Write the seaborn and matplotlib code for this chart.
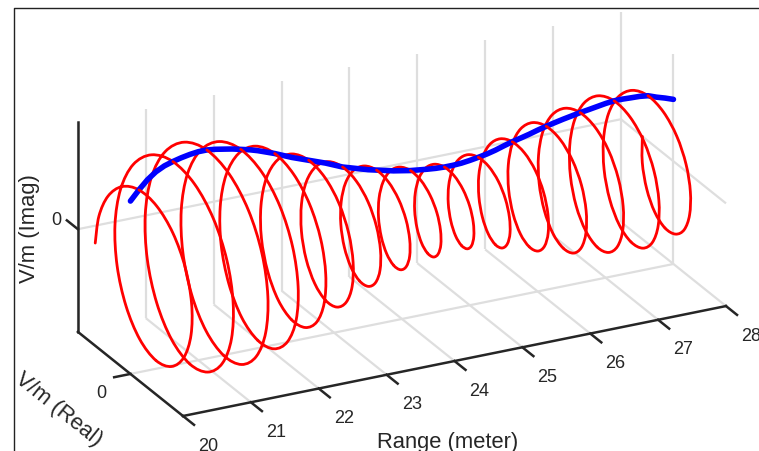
import numpy as np
import matplotlib
matplotlib.use('Agg')
import matplotlib.pyplot as plt
from matplotlib.lines import Line2D
from matplotlib.patches import PathPatch
from matplotlib.path import Path
from mpl_toolkits.mplot3d import proj3d
import seaborn as sns

# data
range_m = [
    20.000, 20.031, 20.062, 20.094, 20.125, 20.156, 20.188, 20.219,
    20.250, 20.281, 20.312, 20.344, 20.375, 20.406, 20.438, 20.469,
    20.500, 20.531, 20.562, 20.594, 20.625, 20.656, 20.688, 20.719,
    20.750, 20.781, 20.812, 20.844, 20.875, 20.906, 20.938, 20.969,
    21.000, 21.031, 21.062, 21.094, 21.125, 21.156, 21.188, 21.219,
    21.250, 21.281, 21.312, 21.344, 21.375, 21.406, 21.438, 21.469,
    21.500, 21.531, 21.562, 21.594, 21.625, 21.656, 21.688, 21.719,
    21.750, 21.781, 21.812, 21.844, 21.875, 21.906, 21.938, 21.969,
    22.000, 22.031, 22.062, 22.094, 22.125, 22.156, 22.188, 22.219,
    22.250, 22.281, 22.312, 22.344, 22.375, 22.406, 22.438, 22.469,
    22.500, 22.531, 22.562, 22.594, 22.625, 22.656, 22.688, 22.719,
    22.750, 22.781, 22.812, 22.844, 22.875, 22.906, 22.938, 22.969,
    23.000, 23.031, 23.062, 23.094, 23.125, 23.156, 23.188, 23.219,
    23.250, 23.281, 23.312, 23.344, 23.375, 23.406, 23.438, 23.469,
    23.500, 23.531, 23.562, 23.594, 23.625, 23.656, 23.688, 23.719,
    23.750, 23.781, 23.812, 23.844, 23.875, 23.906, 23.938, 23.969,
    24.000, 24.031, 24.062, 24.094, 24.125, 24.156, 24.188, 24.219,
    24.250, 24.281, 24.312, 24.344, 24.375, 24.406, 24.438, 24.469,
    24.500, 24.531, 24.562, 24.594, 24.625, 24.656, 24.688, 24.719,
    24.750, 24.781, 24.812, 24.844, 24.875, 24.906, 24.938, 24.969,
    25.000, 25.031, 25.062, 25.094, 25.125, 25.156, 25.188, 25.219,
    25.250, 25.281, 25.312, 25.344, 25.375, 25.406, 25.438, 25.469,
    25.500, 25.531, 25.562, 25.594, 25.625, 25.656, 25.688, 25.719,
    25.750, 25.781, 25.812, 25.844, 25.875, 25.906, 25.938, 25.969,
    26.000, 26.031, 26.062, 26.094, 26.125, 26.156, 26.188, 26.219,
    26.250, 26.281, 26.312, 26.344, 26.375, 26.406, 26.438, 26.469,
    26.500, 26.531, 26.562, 26.594, 26.625, 26.656, 26.688, 26.719,
    26.750, 26.781, 26.812, 26.844, 26.875, 26.906, 26.938, 26.969,
    27.000, 27.031, 27.062, 27.094, 27.125, 27.156, 27.188, 27.219,
    27.250, 27.281, 27.312, 27.344, 27.375, 27.406, 27.438, 27.469,
    27.500, 27.531, 27.562, 27.594, 27.625, 27.656, 27.688, 27.719,
    27.750, 27.781, 27.812, 27.844, 27.875, 27.906, 27.938, 27.969,
    28.000]

field_real = [
    .670, .640, .506, .283, 0, -.299, -.566, -.758,
    -.840, -.790, -.615, -.339, 0, .349, .650, .859,
    .940, .874, .674, .367, 0, -.372, -.689, -.906,
    -.985, -.914, -.702, -.381, 0, .384, .711, .931,
    1.010, .933, .714, .387, 0, -.386, -.711, -.927,
    -1.000, -.920, -.702, -.379, 0, .376, .691, .900,
    .970, .892, .679, .366, 0, -.362, -.665, -.864,
    -.930, -.854, -.649, -.349, 0, .344, .629, .816,
    .875, .802, .608, .327, 0, -.320, -.585, -.757,
    -.810, -.740, -.561, -.300, 0, .294, .537, .696,
    .745, .682, .516, .277, 0, -.271, -.495, -.640,
    -.685, -.626, -.474, -.254, 0, .247, .451, .581,
    .620, .565, .426, .228, 0, -.222, -.405, -.523,
    -.560, -.512, -.387, -.207, 0, .203, .370, .477,
    .510, .467, .354, .190, 0, -.186, -.339, -.439,
    -.470, -.430, -.325, -.174, 0, .171, .313, .406,
    .435, .398, .303, .162, 0, -.160, -.293, -.382,
    -.410, -.377, -.286, -.154, 0, .152, .280, .364,
    .392, .361, .276, .149, 0, -.149, -.274, -.359,
    -.388, -.359, -.276, -.150, 0, .151, .281, .370,
    .402, .374, .289, .158, 0, -.160, -.299, -.394,
    -.430, -.402, -.311, -.170, 0, .175, .327, .433,
    .475, .444, .344, .188, 0, -.193, -.359, -.473,
    -.517, -.482, -.373, -.204, 0, .208, .388, .512,
    .560, .522, .403, .220, 0, -.224, -.416, -.549,
    -.598, -.556, -.429, -.234, 0, .237, .440, .578,
    .630, .586, .451, .246, 0, -.248, -.460, -.604,
    -.657, -.610, -.469, -.255, 0, .258, .479, .628,
    .683, .633, .486, .264, 0, -.265, -.489, -.639,
    -.692, -.638, -.488, -.264, 0, .263, .486, .634,
    .685, .631, .481, .260, 0, -.256, -.467, -.603,
    -.645, -.590, -.448, -.240, 0, .235, .428, .553,
    .591]

field_imag = [
    0, .265, .506, .682, .760, .721, .566, .314,
    0, -.327, -.615, -.818, -.900, -.841, -.650, -.356,
    0, .362, .674, .886, .965, .896, .689, .375,
    0, -.379, -.702, -.920, -1.000, -.927, -.711, -.386,
    0, .387, .714, .933, 1.010, .931, .711, .384,
    0, -.381, -.702, -.914, -.985, -.906, -.691, -.373,
    0, .370, .679, .882, .950, .873, .665, .358,
    0, -.354, -.649, -.842, -.905, -.830, -.629, -.338,
    0, .332, .608, .788, .845, .772, .585, .314,
    0, -.307, -.561, -.724, -.775, -.710, -.537, -.288,
    0, .283, .516, .668, .715, .654, .495, .265,
    0, -.260, -.474, -.613, -.655, -.597, -.451, -.241,
    0, .234, .426, .549, .585, .535, .405, .217,
    0, -.212, -.387, -.500, -.535, -.489, -.370, -.198,
    0, .193, .354, .457, .490, .448, .339, .182,
    0, -.178, -.325, -.420, -.450, -.412, -.313, -.168,
    0, .165, .303, .392, .420, .386, .293, .158,
    0, -.156, -.286, -.372, -.400, -.368, -.280, -.151,
    0, .150, .276, .359, .388, .359, .274, .149,
    0, -.149, -.276, -.361, -.392, -.365, -.281, -.153,
    0, .155, .289, .381, .415, .387, .299, .163,
    0, -.167, -.311, -.411, -.450, -.421, -.327, -.180,
    0, .184, .344, .455, .498, .465, .359, .196,
    0, -.200, -.373, -.492, -.537, -.502, -.388, -.212,
    0, .216, .403, .531, .580, .541, .416, .228,
    0, -.231, -.429, -.565, -.615, -.572, -.440, -.240,
    0, .243, .451, .592, .645, .599, .460, .250,
    0, -.253, -.469, -.616, -.670, -.622, -.479, -.260,
    0, .262, .486, .638, .692, .639, .489, .265,
    0, -.265, -.488, -.637, -.688, -.635, -.486, -.263,
    0, .262, .481, .626, .675, .617, .467, .250,
    0, -.245, -.448, -.578, -.620, -.566, -.428, -.229,
    0]

envelope_range = [
    20.000, 20.125, 20.250, 20.375, 20.500, 20.625, 20.750, 20.875,
    21.000, 21.125, 21.250, 21.375, 21.500, 21.625, 21.750, 21.875,
    22.000, 22.125, 22.250, 22.375, 22.500, 22.625, 22.750, 22.875,
    23.000, 23.125, 23.250, 23.375, 23.500, 23.625, 23.750, 23.875,
    24.000, 24.125, 24.250, 24.375, 24.500, 24.625, 24.750, 24.875,
    25.000, 25.125, 25.250, 25.375, 25.500, 25.625, 25.750, 25.875,
    26.000, 26.125, 26.250, 26.375, 26.500, 26.625, 26.750, 26.875,
    27.000, 27.125, 27.250, 27.375, 27.500, 27.625, 27.750, 27.875,
    28.000]
envelope = [
    .670, .760, .840, .900, .940, .965, .985, 1.000,
    1.010, 1.010, 1.000, .985, .970, .950, .930, .905,
    .875, .845, .810, .775, .745, .715, .685, .655,
    .620, .585, .560, .535, .510, .490, .470, .450,
    .435, .420, .410, .400, .392, .388, .388, .392,
    .402, .415, .430, .450, .475, .498, .517, .537,
    .560, .580, .598, .615, .630, .645, .657, .670,
    .683, .692, .692, .688, .685, .675, .645, .620,
    .591]

range_ticks = [20, 21, 22, 23, 24, 25, 26, 27, 28]
real_ticks = [0]
imag_ticks = [0]
xmin, xmax = 20, 28
ymin, ymax = -1, 1
zmin, zmax = -0.98, 1.02

sns.set_theme(style='white')
plt.rcParams['font.family'] = ['Liberation Sans', 'DejaVu Sans']

W, H = 759, 452
fig = plt.figure(figsize=(W / 100, H / 100), dpi=100, facecolor='white')
ax = fig.add_axes([-0.1, -0.5, 1.2, 2.0], projection='3d', proj_type='ortho',
                  computed_zorder=False)
ax.view_init(elev=23.74, azim=-116.7, roll=0)
ax.set_xlim(xmin, xmax, view_margin=0)
ax.set_ylim(ymin, ymax, view_margin=0)
ax.set_zlim(zmin, zmax, view_margin=0)
ax.set_box_aspect((608, 234, 229))
ax.set_axis_off()


def to_px(x, y, z):
    ax.apply_aspect()
    xs, ys, _ = proj3d.proj_transform(x, y, z, ax.get_proj())
    return ax.transData.transform((xs, ys))


# fit the box to the picture: x axis should span 543 px, corner at (183, 417)
span = to_px(xmax, ymin, zmin)[0] - to_px(xmin, ymin, zmin)[0]
ax.set_box_aspect((608, 234, 229), zoom=543 / span)
corner = to_px(xmin, ymin, zmin)
pos = ax.get_position(original=True)
ax.set_position([pos.x0 + (183 - corner[0]) / W,
                 pos.y0 + ((H - 417) - corner[1]) / H,
                 pos.width, pos.height])

grid_c = '#dedede'
axis_c = '#262626'
text_c = '#262626'
grid = dict(color=grid_c, lw=1.6, zorder=1, solid_capstyle='butt')
edge = dict(color=axis_c, lw=1.8, zorder=6, solid_capstyle='projecting')

# grid on floor, back wall and right wall
for r in range_ticks:
    ax.plot([r, r], [ymin, ymax], [zmin, zmin], **grid)
    ax.plot([r, r], [ymax, ymax], [zmin, zmax], **grid)
for v in real_ticks:
    ax.plot([xmin, xmax], [v, v], [zmin, zmin], **grid)
    ax.plot([xmax, xmax], [v, v], [zmin, zmax], **grid)
for v in imag_ticks:
    ax.plot([xmin, xmax], [ymax, ymax], [v, v], **grid)
    ax.plot([xmax, xmax], [ymin, ymax], [v, v], **grid)

# axis lines and ticks
ax.plot([xmin, xmax], [ymin, ymin], [zmin, zmin], **edge)
ax.plot([xmin, xmin], [ymin, ymax], [zmin, zmin], **edge)
ax.plot([xmin, xmin], [ymax, ymax], [zmin, zmax], **edge)
for r in range_ticks:
    ax.plot([r, r], [ymin, ymin - 0.21], [zmin, zmin], **edge)
for v in real_ticks:
    ax.plot([xmin, xmin - 0.24], [v, v], [zmin, zmin], **edge)
for v in imag_ticks:
    ax.plot([xmin, xmin], [ymax, ymax + 0.21], [v, v], **edge)


class FlatCurve(PathPatch):
    # already projected, Axes3D only needs the method to exist
    def do_3d_projection(self):
        return np.inf


re_arr = np.array(field_real)
xs, ys, _ = proj3d.proj_transform(np.array(range_m), re_arr,
                                  np.array(field_imag), ax.get_proj())
pts = np.column_stack([xs, ys])


def helix_path(keep):
    # bezier through the read points, only the drawing is rounded
    verts, codes = [], []
    last = len(pts) - 1
    for i in range(last):
        if not keep[i]:
            continue
        p0, p1 = pts[max(i - 1, 0)], pts[i]
        p2, p3 = pts[i + 1], pts[min(i + 2, last)]
        if i == 0 or not keep[i - 1]:
            verts.append(p1)
            codes.append(Path.MOVETO)
        verts += [p1 + (p2 - p0) / 6, p2 - (p3 - p1) / 6, p2]
        codes += [Path.CURVE4] * 3
    return Path(np.array(verts), codes)


# helix: back half under the envelope, front half over it
back = re_arr[:-1] + re_arr[1:] > 0
red = dict(facecolor='none', edgecolor='#ff0000', lw=2.0, capstyle='round',
           joinstyle='round')
ax.add_patch(FlatCurve(helix_path(back), zorder=3, **red))
ax.plot(envelope_range, np.zeros(len(envelope)), envelope,
        color='#0000ff', lw=4.0, zorder=4, solid_capstyle='round')
ax.add_patch(FlatCurve(helix_path(~back), zorder=5, **red))

# labels
tick_kw = dict(color=text_c, fontsize=13, ha='center', va='center')
for r in range_ticks:
    ax.text(r, ymin - 0.476, zmin - 0.086, str(r), **tick_kw)
for v in real_ticks:
    ax.text(xmin - 0.427, v, zmin - 0.124, str(v), **tick_kw)
for v in imag_ticks:
    ax.text(xmin, ymax + 0.419, v - 0.072, str(v), **tick_kw)
label_kw = dict(color=text_c, fontsize=15.8, ha='center', va='center',
                rotation_mode='anchor')
ax.text(23.903, ymin, zmin - 0.76, 'Range (meter)', **label_kw)
ax.text(18.94, 0, zmin - 0.194, 'V/m (Real)', zdir=(0, -1, 0), **label_kw)
ax.text(xmin, ymax + 0.914, -0.347, 'V/m (Imag)', zdir='z', **label_kw)

# outer frame of the original figure
fig.add_artist(Line2D([14 / W, 14 / W, 1], [0, 1 - 9 / H, 1 - 9 / H],
                      color='#222222', lw=1.0))

fig.savefig('out.png', dpi=100)
